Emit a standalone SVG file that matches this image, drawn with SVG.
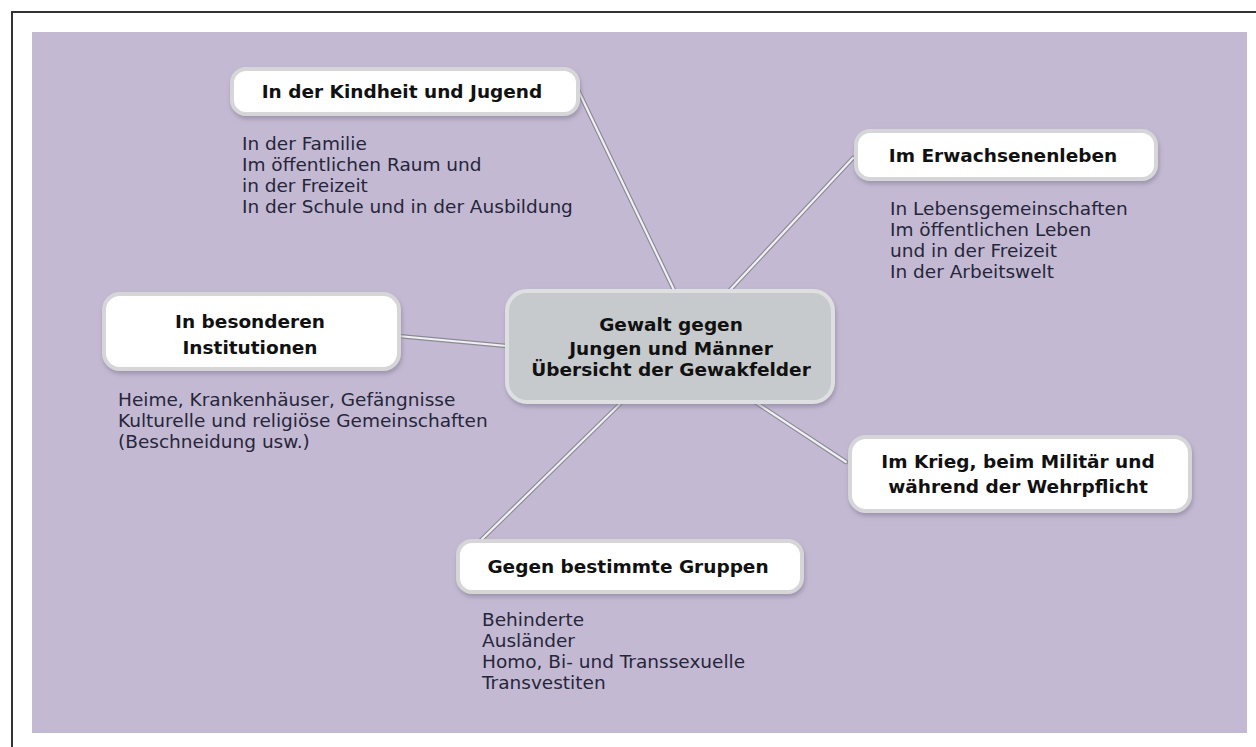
<svg xmlns="http://www.w3.org/2000/svg" width="1256" height="747" viewBox="0 0 1256 747">
<style>
.title{font-family:"DejaVu Sans",Verdana,sans-serif;font-weight:bold;font-size:18.5px;fill:#111111;text-anchor:middle}
.body{font-family:"DejaVu Sans",Verdana,sans-serif;font-size:18.5px;fill:#26263a}
.box{fill:#ffffff;stroke:#d6d6d8;stroke-width:4;filter:url(#sh)}
.cbox{fill:#c7cacc;stroke:#dedfe0;stroke-width:4;filter:url(#sh)}
.edge-o{stroke:#8c8a94;stroke-width:4.5;fill:none;stroke-linecap:round}
.edge-i{stroke:#f0f0f3;stroke-width:2.2;fill:none;stroke-linecap:round}
</style>
<defs>
<filter id="sh" x="-10%" y="-20%" width="125%" height="150%">
<feDropShadow dx="1" dy="3" stdDeviation="2" flood-color="#7d7590" flood-opacity="0.55"/>
</filter>
</defs>
<rect x="0" y="0" width="1256" height="747" fill="#ffffff"/>
<path d="M12 747 V12 H1256" fill="none" stroke="#333" stroke-width="2"/>
<rect x="32" y="32" width="1215" height="701" fill="#c3b9d2"/>
<g id="connectors">
<path class="edge-o" d="M578 90 L674 290"/><path class="edge-i" d="M578 90 L674 290"/>
<path class="edge-o" d="M853 158 L730 290"/><path class="edge-i" d="M853 158 L730 290"/>
<path class="edge-o" d="M398 336 L507 346"/><path class="edge-i" d="M398 336 L507 346"/>
<path class="edge-o" d="M755 402 L846 462"/><path class="edge-i" d="M755 402 L846 462"/>
<path class="edge-o" d="M622 402 L480 541"/><path class="edge-i" d="M622 402 L480 541"/>
</g>
<g id="center">
<rect class="cbox" x="507" y="291" width="326" height="111" rx="20"/>
<text class="title" x="671" y="331" font-size="19">Gewalt gegen</text>
<text class="title" x="671" y="355" font-size="19">Jungen und Männer</text>
<text class="title" x="671" y="376" font-size="15">Übersicht der Gewakfelder</text>
</g>
<g id="kindheit">
<rect class="box" x="232" y="69" width="346" height="45" rx="14"/>
<text class="title" x="402" y="98">In der Kindheit und Jugend</text>
<text class="body" x="242" y="150">In der Familie</text>
<text class="body" x="242" y="171">Im öffentlichen Raum und</text>
<text class="body" x="242" y="192">in der Freizeit</text>
<text class="body" x="242" y="213">In der Schule und in der Ausbildung</text>
</g>
<g id="erwachsenen">
<rect class="box" x="856" y="131" width="300" height="48" rx="14"/>
<text class="title" x="1003" y="162">Im Erwachsenenleben</text>
<text class="body" x="890" y="215">In Lebensgemeinschaften</text>
<text class="body" x="890" y="236">Im öffentlichen Leben</text>
<text class="body" x="890" y="257">und in der Freizeit</text>
<text class="body" x="890" y="278">In der Arbeitswelt</text>
</g>
<g id="institutionen">
<rect class="box" x="104" y="294" width="295" height="75" rx="16"/>
<text class="title" x="250" y="328">In besonderen</text>
<text class="title" x="250" y="354">Institutionen</text>
<text class="body" x="118" y="406">Heime, Krankenhäuser, Gefängnisse</text>
<text class="body" x="118" y="427">Kulturelle und religiöse Gemeinschaften</text>
<text class="body" x="118" y="448">(Beschneidung usw.)</text>
</g>
<g id="krieg">
<rect class="box" x="850" y="437" width="340" height="74" rx="16"/>
<text class="title" x="1018" y="468">Im Krieg, beim Militär und</text>
<text class="title" x="1018" y="493">während der Wehrpflicht</text>
</g>
<g id="gruppen">
<rect class="box" x="458" y="541" width="344" height="51" rx="14"/>
<text class="title" x="628" y="573">Gegen bestimmte Gruppen</text>
<text class="body" x="482" y="626">Behinderte</text>
<text class="body" x="482" y="647">Ausländer</text>
<text class="body" x="482" y="668">Homo, Bi- und Transsexuelle</text>
<text class="body" x="482" y="689">Transvestiten</text>
</g>
</svg>
